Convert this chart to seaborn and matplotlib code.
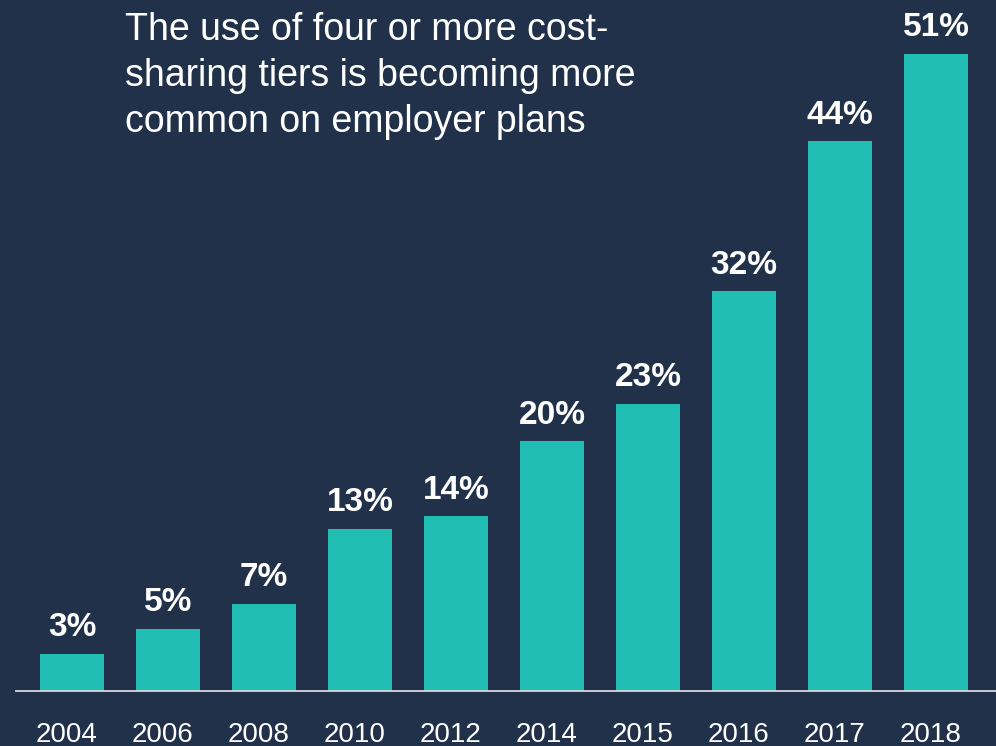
import matplotlib
matplotlib.use("Agg")
import matplotlib.pyplot as plt
import matplotlib.transforms as mtransforms
import seaborn as sns
import pandas as pd

# Share of covered workers in plans with four or more cost-sharing tiers
years = ["2004", "2006", "2008", "2010", "2012", "2014", "2015", "2016", "2017", "2018"]
shares = [3, 5, 7, 13, 14, 20, 23, 32, 44, 51]
headline = "The use of four or more cost-\nsharing tiers is becoming more\ncommon on employer plans"

BG = "#21314a"
TEAL = "#20bdb3"

sns.set_theme(style="white")
plt.rcParams["font.family"] = ["Liberation Sans", "DejaVu Sans"]

df = pd.DataFrame({"year": years, "share": shares})

fig = plt.figure(figsize=(9.96, 7.46), dpi=100, facecolor=BG)
ax = fig.add_axes([16 / 996, 55 / 746, 980 / 996, 691 / 746])
ax.set_facecolor(BG)

sns.barplot(data=df, x="year", y="share", color=TEAL, width=0.667,
            saturation=1, linewidth=0, ax=ax)

ax.set_xlim(-0.583, 9.625)
ax.set_ylim(0, 55.3)

for patch, val in zip(ax.patches, shares):
    ax.annotate(f"{val}%", (patch.get_x() + patch.get_width() / 2, patch.get_height()),
                xytext=(0, 7.5), textcoords="offset points",
                ha="center", va="bottom", color="white",
                fontsize=24, fontweight="bold")

ax.set_xlabel("")
ax.set_ylabel("")
ax.set_yticks([])
ax.tick_params(axis="x", length=0, pad=22, labelsize=20, labelcolor="white")
shift = mtransforms.ScaledTranslation(-5 / 100, 0, fig.dpi_scale_trans)
for lbl in ax.get_xticklabels():
    lbl.set_transform(lbl.get_transform() + shift)
for side in ["top", "left", "right"]:
    ax.spines[side].set_visible(False)
ax.spines["bottom"].set_color("#d5d9de")
ax.spines["bottom"].set_linewidth(1.3)

fig.text(125 / 996, 1 - 12 / 746, headline, ha="left", va="top",
         color="white", fontsize=27, linespacing=1.35)

fig.savefig("out.png", dpi=100, facecolor=BG)
